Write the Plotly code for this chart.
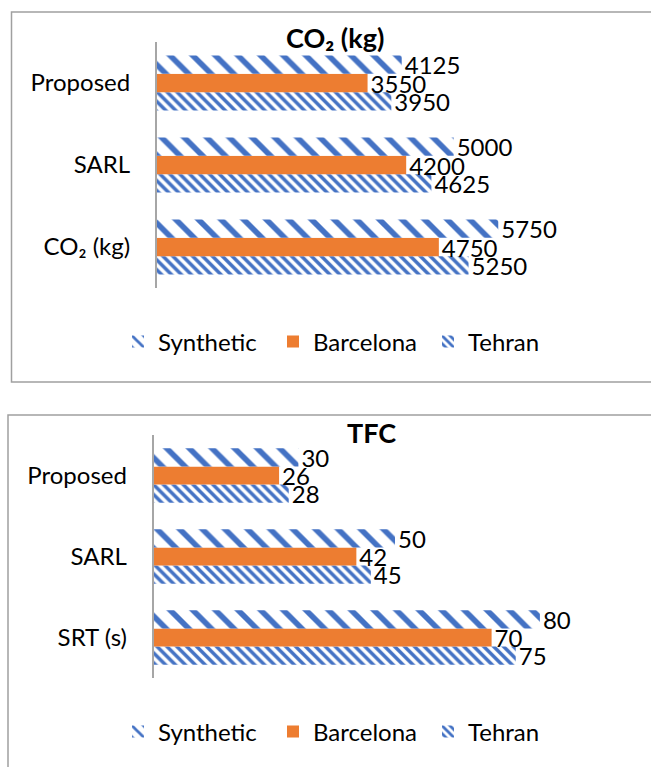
import plotly.graph_objects as go

# Categories (listed bottom to top, as drawn on the horizontal bar axis)
co2_categories = ["CO₂ (kg)", "SARL", "Proposed"]
tfc_categories = ["SRT (s)", "SARL", "Proposed"]

# CO2 emissions per dataset
co2_synthetic = [5750, 5000, 4125]
co2_barcelona = [4750, 4200, 3550]
co2_tehran = [5250, 4625, 3950]

# TFC per dataset
tfc_synthetic = [80, 50, 30]
tfc_barcelona = [70, 42, 26]
tfc_tehran = [75, 45, 28]

series_names = ["Tehran", "Barcelona", "Synthetic"]

W, H = 651, 767
BLUE = "#4472C4"
ORANGE = "#ED7D31"
FONT = "Lato"
TXT = 24


def px_x(p):
    return p / W


def px_y(p):
    return 1 - p / H


styles = {
    "Synthetic": dict(color="white", pattern=dict(shape="\\", fgcolor=BLUE, bgcolor="white",
                                                  size=16, solidity=0.35, fillmode="replace")),
    "Barcelona": dict(color=ORANGE),
    "Tehran": dict(color="white", pattern=dict(shape="\\", fgcolor=BLUE, bgcolor="white",
                                               size=7, solidity=0.5, fillmode="replace")),
}

fig = go.Figure()

co2_values = {"Synthetic": co2_synthetic, "Barcelona": co2_barcelona, "Tehran": co2_tehran}
tfc_values = {"Synthetic": tfc_synthetic, "Barcelona": tfc_barcelona, "Tehran": tfc_tehran}

for name in series_names:
    fig.add_trace(go.Bar(
        y=co2_categories, x=co2_values[name], orientation="h", name=name,
        marker=dict(line=dict(width=0), **styles[name]),
        text=co2_values[name], texttemplate="%{x}", textposition="outside",
        constraintext="none", cliponaxis=False,
        textfont=dict(family=FONT, size=TXT, color="#000000"),
        xaxis="x", yaxis="y", legend="legend",
    ))

for name in series_names:
    fig.add_trace(go.Bar(
        y=tfc_categories, x=tfc_values[name], orientation="h", name=name,
        marker=dict(line=dict(width=0), **styles[name]),
        text=tfc_values[name], texttemplate="%{x}", textposition="outside",
        constraintext="none", cliponaxis=False,
        textfont=dict(family=FONT, size=TXT, color="#000000"),
        xaxis="x2", yaxis="y2", legend="legend2",
    ))

axis_line = "#A6A6A6"
cat_axis = dict(type="category", showline=True, linecolor=axis_line, linewidth=1.5,
                showgrid=False, zeroline=False, ticks="", ticklabelstandoff=20,
                tickfont=dict(family=FONT, size=TXT, color="#000000"))

legend_common = dict(orientation="h", traceorder="reversed", xanchor="left", yanchor="middle",
                     font=dict(family=FONT, size=TXT, color="#000000"),
                     bgcolor="rgba(0,0,0,0)", entrywidth=110, itemclick=False)

fig.update_layout(
    width=W, height=H,
    margin=dict(l=0, r=0, t=0, b=0),
    paper_bgcolor="white", plot_bgcolor="white",
    barmode="group", bargap=0.33, bargroupgap=0,
    font=dict(family=FONT, color="#000000"),
    xaxis=dict(domain=[px_x(156.7), px_x(572.5)], range=[0, 7000], visible=False, anchor="y"),
    yaxis=dict(domain=[px_y(288), px_y(42)], anchor="x",
               categoryarray=co2_categories, categoryorder="array", **cat_axis),
    xaxis2=dict(domain=[px_x(153.5), px_x(588.2)], range=[0, 90], visible=False, anchor="y2"),
    yaxis2=dict(domain=[px_y(678), px_y(435)], anchor="x2",
                categoryarray=tfc_categories, categoryorder="array", **cat_axis),
    legend=dict(x=px_x(118), y=px_y(342), **legend_common),
    legend2=dict(x=px_x(118), y=px_y(732), **legend_common),
    annotations=[
        dict(text="<b>CO₂ (kg)</b>", x=px_x(335), y=px_y(37), xref="paper", yref="paper",
             xanchor="center", yanchor="middle",
             showarrow=False, font=dict(family=FONT, size=27, color="#000000")),
        dict(text="<b>TFC</b>", x=px_x(371), y=px_y(433), xref="paper", yref="paper",
             xanchor="center", yanchor="middle",
             showarrow=False, font=dict(family=FONT, size=27, color="#000000")),
    ],
    shapes=[
        dict(type="rect", xref="paper", yref="paper", x0=px_x(11.5), x1=1.05,
             y0=px_y(382), y1=px_y(12), line=dict(color="#A0A0A0", width=1.5)),
        dict(type="rect", xref="paper", yref="paper", x0=px_x(8), x1=1.05,
             y0=-0.05, y1=px_y(415), line=dict(color="#A0A0A0", width=1.5)),
    ],
)

fig.write_html("out.html")
